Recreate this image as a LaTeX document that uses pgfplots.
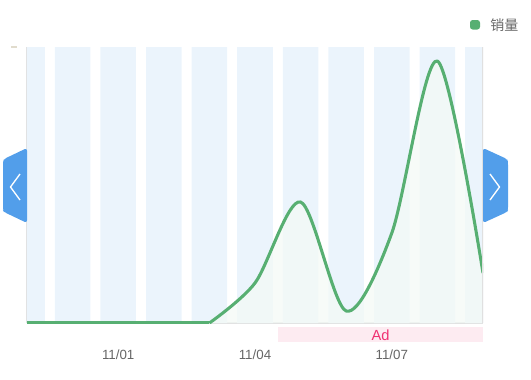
\documentclass[border=0pt]{standalone}
\usepackage{pgfplots}
\pgfplotsset{compat=1.18}
\usepackage{fontspec}
\setmainfont{Liberation Sans}
\newfontfamily\cjk{Noto Sans CJK SC}
\definecolor{linegreen}{RGB}{87,175,114}
\definecolor{stripe}{RGB}{235,244,252}
\definecolor{tabblue}{RGB}{82,158,234}
\definecolor{adpink}{RGB}{253,235,241}
\definecolor{adtext}{RGB}{240,50,115}
\definecolor{ticktext}{RGB}{102,102,102}
\definecolor{axisgray}{RGB}{224,224,224}
\begin{document}
\begin{tikzpicture}
\path[use as bounding box] (0,0) rectangle (398.25pt,-284.25pt);
\begin{axis}[
  at={(20.25pt,-242.25pt)}, anchor=south west,
  scale only axis, width=342pt, height=207pt,
  xmin=0, xmax=10, ymin=0, ymax=276,
  axis lines*=left,
  axis line style={draw=axisgray, line width=0.8pt},
  ytick=\empty,
  xtick={2,5,8}, xticklabels={11/01,11/04,11/07},
  major tick length=0pt,
  xticklabel style={anchor=base, yshift=-27pt, font=\fontsize{10pt}{11pt}\selectfont, text=ticktext},
  /pgf/number format/assume math mode=true,
  clip=true,
  axis on top=false,
]
% background stripes
\addplot[ybar, bar width=0.78, fill=stripe, draw=none, forget plot]
  coordinates {(0,276)(1,276)(2,276)(3,276)(4,276)(5,276)(6,276)(7,276)(8,276)(9,276)(10,276)};
% area fill
\addplot[draw=none, fill={rgb,255:red,244;green,250;blue,246}, fill opacity=0.75, smooth, forget plot]
  coordinates {(4,0)(5,40)(6,121)(7,12)(8,90)(9,262)(10,50)} \closedcycle;
% flat part
\addplot[linegreen, line width=2.3pt, sharp plot, forget plot]
  coordinates {(0,0)(1,0)(2,0)(3,0)(4,0)};
% smooth part
\addplot[linegreen, line width=2.3pt, smooth, line join=round, forget plot]
  coordinates {(4,0)(5,40)(6,121)(7,12)(8,90)(9,262)(10,50)};
\draw[axisgray, line width=0.8pt] (axis cs:10,0) -- (axis cs:10,276);
\end{axis}
\begin{scope}[x=0.75pt,y=-0.75pt]
% y tick mark
\draw[color={rgb,255:red,225;green,220;blue,205}, line width=0.8pt] (11,47) -- (17,47);
% legend
\fill[linegreen, rounded corners=2pt] (470,20) rectangle (480,29.5);
\node[anchor=west, inner sep=0pt, text=ticktext, font=\cjk\fontsize{10.5pt}{12pt}\selectfont] at (490,25) {销量};
% left tab
\fill[tabblue, rounded corners=2pt] (27,148) -- (4,159) -- (3,162) -- (3,210) -- (4,212) -- (27,223) -- cycle;
\draw[white, line width=1pt] (20,174) -- (10.5,187) -- (20,200);
% right tab
\fill[tabblue, rounded corners=2pt] (483,148) -- (507,159) -- (508,162) -- (508,210) -- (507,212) -- (483,223) -- cycle;
\draw[white, line width=1pt] (490,174) -- (499.5,187) -- (490,200);
% Ad band
\fill[adpink] (278,327) rectangle (483,342);
\node[anchor=base, inner sep=0pt, text=adtext, font=\fontsize{11pt}{12pt}\selectfont] at (380.5,340) {Ad};
\end{scope}
\end{tikzpicture}
\end{document}
